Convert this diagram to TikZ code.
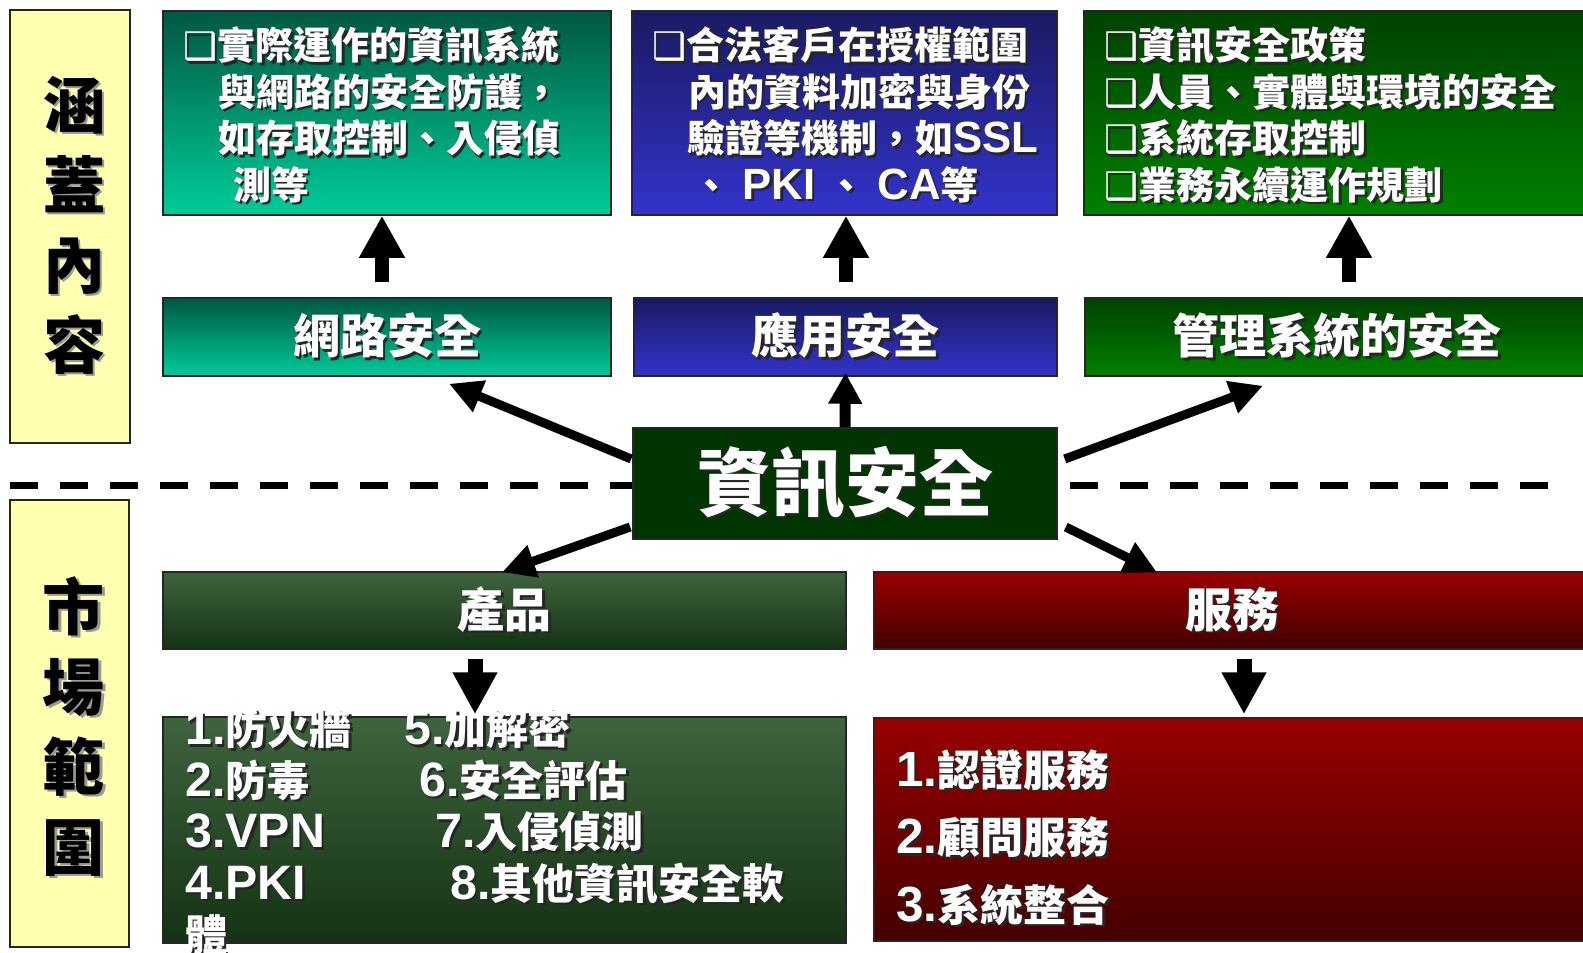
\documentclass[tikz,border=0pt]{standalone}
\usepackage{fontspec}
\setmainfont{Noto Sans CJK TC}
\newfontfamily\lat{Liberation Sans}[Scale=1.15]
\newfontfamily\symfont{DejaVu Sans}
\usetikzlibrary{arrows.meta}

\definecolor{tealtop}{RGB}{0,88,66}
\definecolor{tealbot}{RGB}{0,204,153}
\definecolor{bluetop}{RGB}{26,26,98}
\definecolor{bluebot}{RGB}{51,51,204}
\definecolor{grntop}{RGB}{0,66,0}
\definecolor{grnbot}{RGB}{0,128,0}
\definecolor{coregrn}{RGB}{0,52,0}
\definecolor{prodtop}{RGB}{62,100,62}
\definecolor{prodbot}{RGB}{20,50,20}
\definecolor{redtop}{RGB}{153,0,0}
\definecolor{redbot}{RGB}{68,0,0}
\definecolor{paleylw}{RGB}{255,255,176}

% text with a drop shadow
\newcommand{\shd}[2][black!85]{\makebox[0pt][l]{\hspace{2.5pt}\raisebox{-2.5pt}{\textcolor{#1}{#2}}}#2}
\newcommand{\bx}{{\symfont\mdseries ❑}}
\newcommand{\pcol}[3]{\makebox[#1][l]{#2}#3}

\begin{document}
\begin{tikzpicture}[x=1pt, y=-1pt, font=\bfseries,
    box/.style={draw=black!85, line width=1.5pt, inner sep=0pt, text=white},
    tealbox/.style={box, top color=tealtop, bottom color=tealbot},
    bluebox/.style={box, top color=bluetop, bottom color=bluebot},
    grnbox/.style={box, top color=grntop, bottom color=grnbot},
    prodbox/.style={box, top color=prodtop, bottom color=prodbot},
    redbox/.style={box, top color=redtop, bottom color=redbot},
    sidebox/.style={draw=black!85, line width=1.5pt, fill=paleylw, inner sep=0pt},
    sidetext/.style={align=center, font=\fontsize{62}{80}\selectfont\bfseries},
    label/.style={font=\fontsize{47}{52}\selectfont\bfseries},
    toptext/.style={anchor=west, align=left, inner sep=0pt, text=white,
      font=\fontsize{38}{46.5}\selectfont\bfseries},
    sepline/.style={line width=7pt, dash pattern=on 28pt off 22pt},
    upar/.style={line width=14pt, -{Triangle[length=42pt,width=43pt]}},
    slant/.style={line width=9pt, -{Triangle[length=33pt,width=32pt]}},
    midar/.style={line width=11pt, -{Triangle[length=31pt,width=32pt]}},
    downar/.style={line width=15pt, -{Triangle[length=42pt,width=42pt]}}]
  \useasboundingbox (0,0) rectangle (1583,953);

  % side labels
  \node[sidebox, minimum width=120pt, minimum height=433pt] (cover) at (70,226.5) {};
  \node[sidetext] at ([xshift=4pt]cover.center) {\shd[black!40]{涵}\\\shd[black!40]{蓋}\\\shd[black!40]{內}\\\shd[black!40]{容}};
  \node[sidebox, minimum width=119pt, minimum height=447pt] (market) at (69.5,723.5) {};
  \node[sidetext] at ([xshift=4pt,yshift=-4pt]market.center) {\shd[black!40]{市}\\\shd[black!40]{場}\\\shd[black!40]{範}\\\shd[black!40]{圍}};

  % top row
  \node[tealbox, minimum width=448pt, minimum height=204pt] (top1) at (387,113) {};
  \node[toptext] (t1) at ([xshift=21pt,yshift=-3pt]top1.west) {\shd{\bx 實際運作的資訊系統}\\
    \hspace*{35pt}\shd{與網路的安全防護，}\\
    \hspace*{35pt}\shd{如存取控制、入侵偵}\\
    \hspace*{50pt}\shd{測等}};
  \node[bluebox, minimum width=425pt, minimum height=204pt] (top2) at (844.5,113) {};
  \node[toptext] (t2) at ([xshift=21pt,yshift=-3pt]top2.west) {\shd{\bx 合法客戶在授權範圍}\\
    \hspace*{36pt}\shd{內的資料加密與身份}\\
    \hspace*{35pt}\shd{驗證等機制，如{\lat SSL}}\\
    \hspace*{40pt}\shd{、{\lat\ PKI\ }、{\lat\ CA}等}};
  \node[grnbox, minimum width=530pt, minimum height=204pt] (top3) at (1349,113) {};
  \node[toptext] (t3) at ([xshift=21pt,yshift=-3pt]top3.west) {\shd{\bx 資訊安全政策}\\
    \shd{\bx 人員、實體與環境的安全}\\
    \shd{\bx 系統存取控制}\\
    \shd{\bx 業務永續運作規劃}};

  % middle row
  \node[tealbox, label, minimum width=448pt, minimum height=78pt] (net) at (387,337) {\shd{網路安全}};
  \node[bluebox, label, minimum width=423pt, minimum height=78pt] (app) at (845.5,337) {\shd{應用安全}};
  \node[grnbox, label, minimum width=530pt, minimum height=78pt] (mgmt) at (1350,337) {\hspace*{-26pt}\shd{管理系統的安全}};

  % core
  \node[box, fill=coregrn, minimum width=424pt, minimum height=111pt,
    font=\fontsize{74}{80}\selectfont\bfseries] (core) at (845,483.5) {\shd{資訊安全}};

  % separator
  \coordinate (sepL) at (10,485);
  \coordinate (sepR) at (1551,485);
  \draw[sepline] (sepL) -- (sepL -| core.west);
  \draw[sepline] ([xshift=12pt]sepL -| core.east) -- (sepR);

  % market row
  \node[prodbox, label, minimum width=683pt, minimum height=77pt] (prod) at (504.5,610.5) {\shd{產品}};
  \node[redbox, label, minimum width=716pt, minimum height=77pt] (serv) at (1232,610.5) {\shd{服務}};
  \node[prodbox, minimum width=683pt, minimum height=226pt] (prodlist) at (504.5,830) {};
  \node[toptext, font=\fontsize{42}{51.5}\selectfont\bfseries] (pl) at ([xshift=23pt,yshift=-3pt]prodlist.west) {%
    \shd{\pcol{219pt}{{\lat 1.}防火牆}{{\lat 5.}加解密}}\\
    \shd{\pcol{234pt}{{\lat 2.}防毒}{{\lat 6.}安全評估}}\\
    \shd{\pcol{250pt}{{\lat 3.VPN}}{{\lat 7.}入侵偵測}}\\
    \shd{\pcol{265pt}{{\lat 4.PKI}}{{\lat 8.}其他資訊安全軟}}\\
    \shd{體}};
  \node[redbox, minimum width=716pt, minimum height=223pt] (servlist) at (1232,829.5) {};
  \node[toptext, font=\fontsize{43}{67.5}\selectfont\bfseries] (sl) at ([xshift=23pt,yshift=-9pt]servlist.west) {%
    \shd{{\lat 1.}認證服務}\\
    \shd{{\lat 2.}顧問服務}\\
    \shd{{\lat 3.}系統整合}};

  % arrows
  \draw[upar] ([xshift=-5pt,yshift=15pt]net.north) -- ([xshift=-5pt]top1.south);
  \draw[upar] ([xshift=0.5pt,yshift=15pt]app.north) -- ([xshift=1.5pt]top2.south);
  \draw[upar] ([xshift=-1pt,yshift=15pt]mgmt.north) -- (top3.south);
  \draw[midar] (core.north) -- ([yshift=4pt]app.south);
  \draw[slant] ([xshift=-1pt,yshift=24.5pt]core.west) -- ([xshift=62pt,yshift=-7pt]net.south);
  \draw[slant] ([xshift=7pt,yshift=24.5pt]core.east) -- ([xshift=-87pt,yshift=-9pt]mgmt.south);
  \draw[slant] ([xshift=-2pt,yshift=-43.5pt]core.west) -- ([xshift=-2.5pt,yshift=-1pt]prod.north);
  \draw[slant] ([xshift=8pt,yshift=-43.5pt]core.east) -- ([xshift=-75pt,yshift=-1pt]serv.north);
  \draw[downar] ([xshift=-29.5pt,yshift=-9pt]prod.south) -- ([xshift=-29.5pt,yshift=2pt]prodlist.north);
  \draw[downar] ([xshift=12pt,yshift=-9pt]serv.south) -- ([xshift=12pt,yshift=3pt]servlist.north);
\end{tikzpicture}
\end{document}
